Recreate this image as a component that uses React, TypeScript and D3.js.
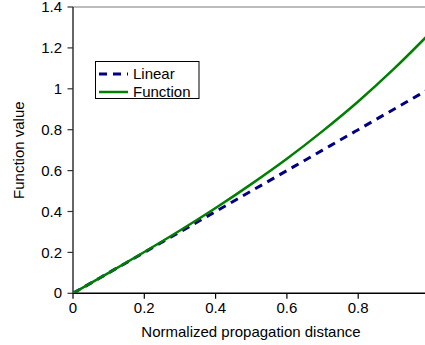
import React from "react";
import * as d3 from "d3";

const xValues = [0, 0.1, 0.2, 0.3, 0.4, 0.5, 0.6, 0.7, 0.8, 0.9, 1.0];
const linearValues = [0, 0.1, 0.2, 0.3, 0.4, 0.5, 0.6, 0.7, 0.8, 0.9, 1.0];
const functionValues = [0, 0.1, 0.202, 0.307, 0.417, 0.534, 0.658, 0.793, 0.938, 1.097, 1.27];
const xTicks = [0, 0.2, 0.4, 0.6, 0.8];
const yTicks = [0, 0.2, 0.4, 0.6, 0.8, 1, 1.2, 1.4];
const seriesNames = ["Linear", "Function"];

const W = 425;
const H = 345;
const left = 73;
const top = 7;
const bottom = 293.3;
const rightAt1 = 429.5;

export default function App() {
  const x = d3.scaleLinear().domain([0, 1]).range([left, rightAt1]);
  const y = d3.scaleLinear().domain([0, 1.4]).range([bottom, top]);
  const line = d3
    .line<[number, number]>()
    .x((d) => x(d[0]))
    .y((d) => y(d[1]))
    .curve(d3.curveMonotoneX);
  const linPts = xValues.map((v, i) => [v, linearValues[i]] as [number, number]);
  const fnPts = xValues.map((v, i) => [v, functionValues[i]] as [number, number]);
  const font = "'Liberation Sans', Arial, sans-serif";
  return (
    <svg
      width={W}
      height={H}
      style={{ position: "absolute", left: 0, top: 0, background: "#fff" }}
      fontFamily={font}
    >
      <defs>
        <clipPath id="plot">
          <rect x={left} y={top - 2} width={W - left} height={bottom - top + 2} />
        </clipPath>
      </defs>
      <line x1={left} x2={W} y1={top} y2={top} stroke="#a6a6a6" strokeWidth={1.5} />
      {/* y axis */}
      <line x1={left} x2={left} y1={top} y2={bottom} stroke="#333" strokeWidth={1.5} />
      {yTicks.map((t) => (
        <g key={"y" + t}>
          <line x1={left - 5.5} x2={left} y1={y(t)} y2={y(t)} stroke="#333" strokeWidth={1.2} />
          <text x={62} y={y(t)} dy="0.34em" textAnchor="end" fontSize={15} fill="#000">
            {String(t)}
          </text>
        </g>
      ))}
      {/* x axis */}
      <line x1={left} x2={W} y1={bottom} y2={bottom} stroke="#000" strokeWidth={1.5} />
      {xTicks.map((t) => (
        <g key={"x" + t}>
          <line x1={x(t)} x2={x(t)} y1={bottom} y2={bottom + 5.5} stroke="#000" strokeWidth={1.2} />
          <text x={x(t)} y={313} textAnchor="middle" fontSize={15} fill="#000">
            {String(t)}
          </text>
        </g>
      ))}
      <text x={251} y={336.5} textAnchor="middle" fontSize={15} fill="#000">
        Normalized propagation distance
      </text>
      <text
        transform={`translate(24, ${(top + bottom) / 2}) rotate(-90)`}
        textAnchor="middle"
        fontSize={15}
        fill="#000"
      >
        Function value
      </text>
      <g clipPath="url(#plot)">
        <path
          d={line(linPts) || ""}
          fill="none"
          stroke="#000080"
          strokeWidth={3}
          strokeDasharray="8,6"
        />
        <path d={line(fnPts) || ""} fill="none" stroke="#008000" strokeWidth={2.5} />
      </g>
      {/* legend */}
      <rect x={95.5} y={61.5} width={103.5} height={37} fill="#fff" stroke="#000" strokeWidth={1} />
      <line x1={99} x2={128} y1={74} y2={74} stroke="#000080" strokeWidth={3} strokeDasharray="8,6" />
      <line x1={99} x2={128} y1={92} y2={92} stroke="#008000" strokeWidth={2.5} />
      <text x={133} y={74} dy="0.35em" fontSize={15} fill="#000">
        {seriesNames[0]}
      </text>
      <text x={133} y={92} dy="0.35em" fontSize={15} fill="#000">
        {seriesNames[1]}
      </text>
    </svg>
  );
}
